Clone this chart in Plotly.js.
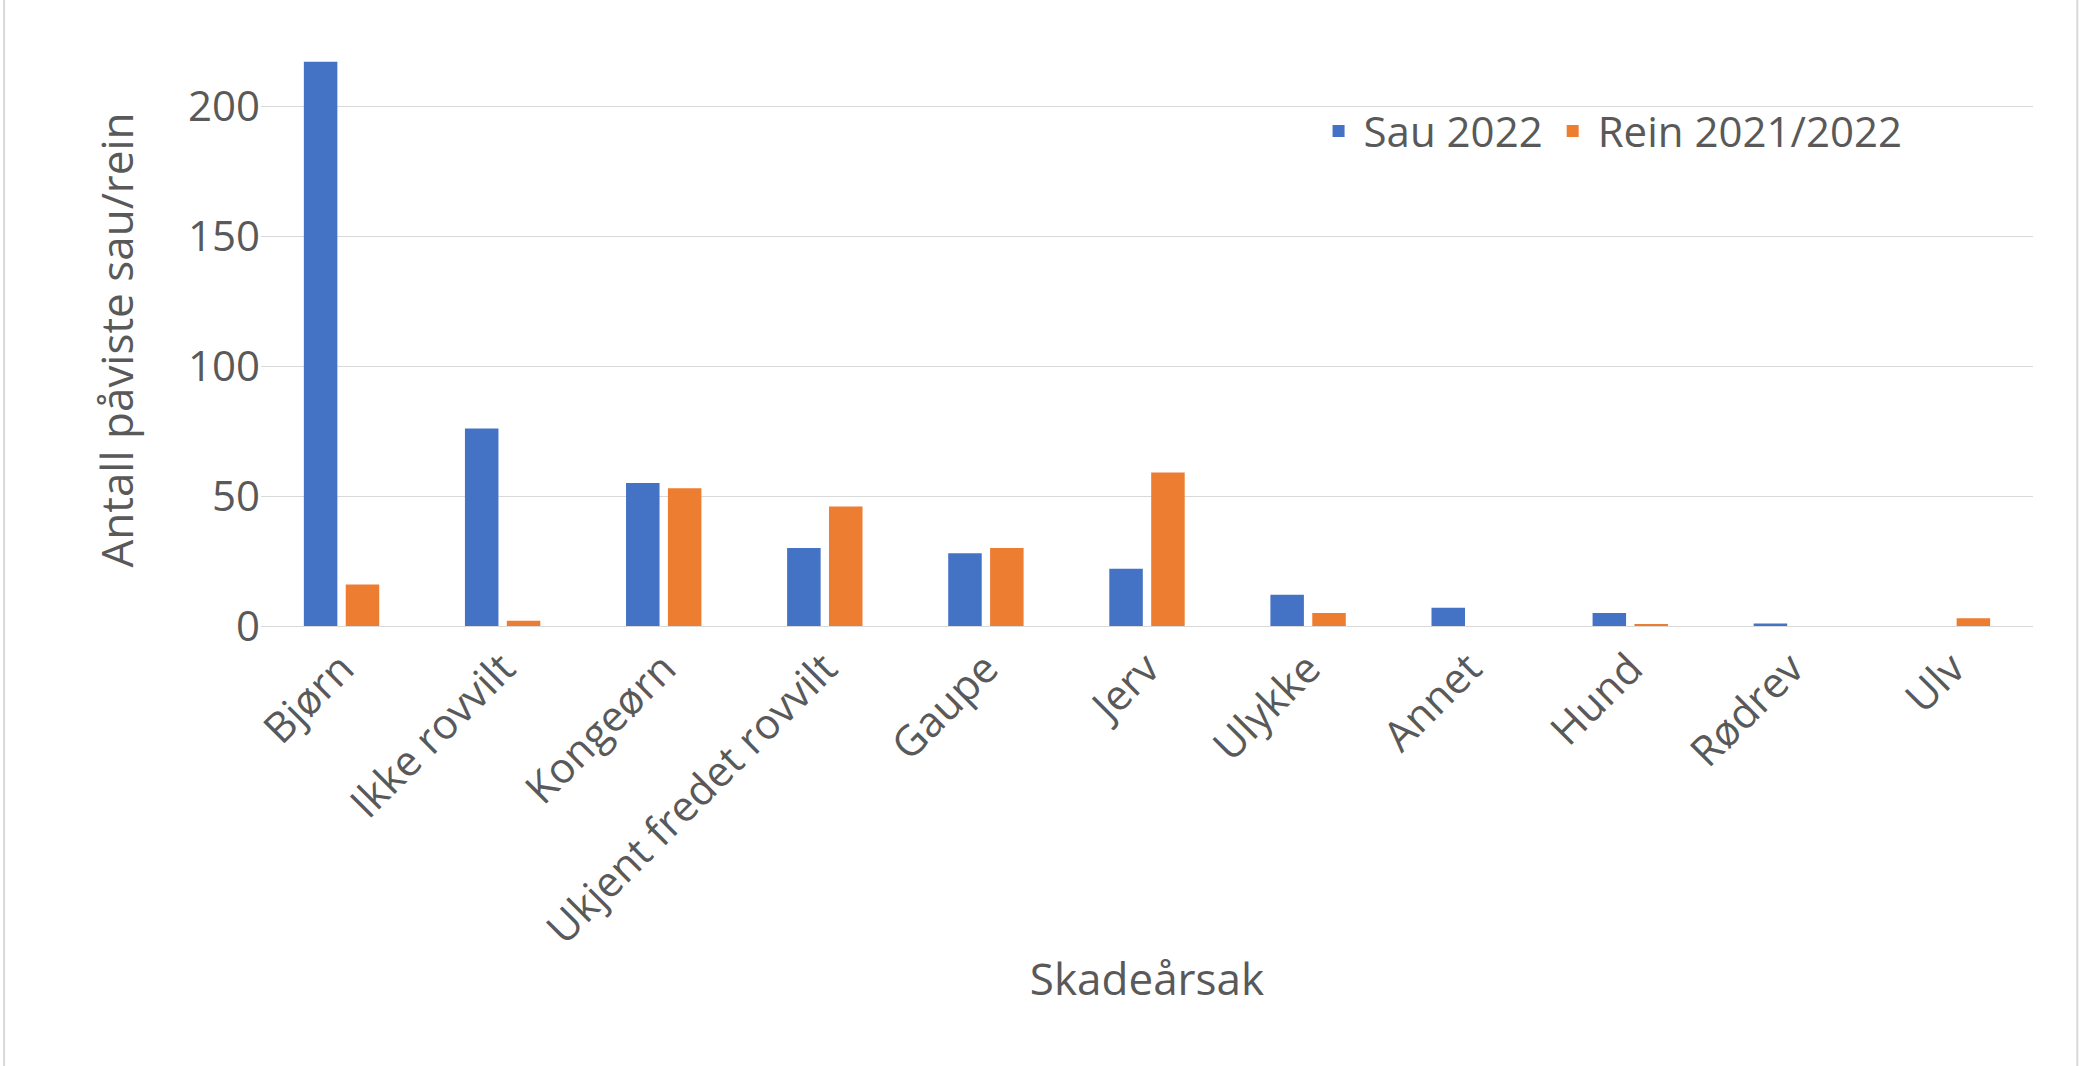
<!DOCTYPE html>
<html><head><meta charset="utf-8">
<script src="https://cdn.plot.ly/plotly-3.0.1.min.js"></script>
<style>body{margin:0;}#c{width:2081px;height:1066px;}</style></head>
<body><div id="c"></div>
<script>
const categories = ["Bjørn","Ikke rovvilt","Kongeørn","Ukjent fredet rovvilt","Gaupe","Jerv","Ulykke","Annet","Hund","Rødrev","Ulv"];
const sau2022 = [217,76,55,30,28,22,12,7,5,1,0];
const rein2122 = [16,2,53,46,30,59,5,0,0.5,0,3];
const font = {family:"Open Sans, Calibri, sans-serif", color:"#595959"};
Plotly.newPlot("c",[
 {type:"bar",name:"Sau 2022",x:categories,y:sau2022,marker:{color:"#4472C4"}},
 {type:"bar",name:"Rein 2021/2022",x:categories,y:rein2122,marker:{color:"#ED7D31"}}
],{
 width:2081,height:1066,paper_bgcolor:"#fff",plot_bgcolor:"#fff",
 margin:{l:261,r:48,t:54,b:440},
 barmode:"group",bargap:0.48,bargroupgap:0.2,
 font:Object.assign({size:42},font),
 xaxis:{tickangle:-45,tickfont:{size:42},title:{text:"Skadeårsak",font:{size:44},standoff:10},showline:true,linecolor:"#d9d9d9",ticks:""},
 yaxis:{range:[0,220],tickvals:[0,50,100,150,200],gridcolor:"#d9d9d9",zeroline:false,tickfont:{size:42},title:{text:"Antall påviste sau/rein",font:{size:44},standoff:40}},
 legend:{orientation:"h",x:0.594,y:0.865,xanchor:"left",yanchor:"middle",font:{size:42},bgcolor:"rgba(0,0,0,0)",itemwidth:40},
 shapes:[{type:"rect",xref:"paper",yref:"paper",x0:-0.145,x1:1.025,y0:-0.838,y1:1.196,line:{color:"#d9d9d9",width:2}}]
},{displayModeBar:false});
</script></body></html>
